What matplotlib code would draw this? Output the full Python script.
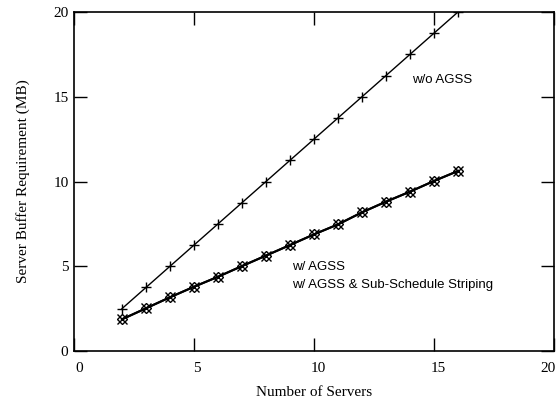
import matplotlib
matplotlib.use("Agg")
import matplotlib.pyplot as plt
import matplotlib.transforms as mtransforms

servers = [2, 3, 4, 5, 6, 7, 8, 9, 10, 11, 12, 13, 14, 15, 16]
wo_agss = [2.5, 3.75, 5.0, 6.25, 7.5, 8.75, 10.0, 11.25, 12.5, 13.75, 15.0, 16.25, 17.5, 18.75, 20.0]
w_agss = [1.87, 2.52, 3.17, 3.79, 4.38, 5.01, 5.63, 6.25, 6.88, 7.47, 8.18, 8.81, 9.4, 10.03, 10.62]
w_agss_sss = [1.87, 2.52, 3.17, 3.79, 4.38, 5.01, 5.63, 6.25, 6.88, 7.47, 8.18, 8.81, 9.4, 10.03, 10.62]
x_ticks = [0, 5, 10, 15, 20]
y_ticks = [0, 5, 10, 15, 20]

serif = ["Liberation Serif", "DejaVu Serif"]
sans = ["Liberation Sans", "DejaVu Sans"]

fig = plt.figure(figsize=(5.59, 4.07), dpi=100)
ax = fig.add_axes([0.1324, 0.1376, 0.991 - 0.1324, 0.9705 - 0.1376])

ax.plot(servers, wo_agss, color="black", lw=1.0, marker="+", ms=7.5, mew=1.0)
ax.plot(servers, w_agss, color="black", lw=1.5, marker="x", ms=7, mew=1.0)
ax.plot(servers, w_agss_sss, color="black", lw=1.5, marker="D", ms=5, mew=1.0,
        fillstyle="none")

ax.set_xlim(0, 20)
ax.set_ylim(0, 20)
ax.set_xticks(x_ticks)
ax.set_yticks(y_ticks)
ax.tick_params(direction="in", length=9.4, width=1.0, top=True, right=True,
               labelsize=11)
ax.tick_params(axis="x", pad=8)
ax.tick_params(axis="y", pad=4)
for lab in ax.get_xticklabels() + ax.get_yticklabels():
    lab.set_family(serif)
xlabs = ax.get_xticklabels()
shifts = [5, 3, 4, 4, -6]
for lab, dx in zip(xlabs, shifts):
    lab.set_transform(lab.get_transform() +
                      mtransforms.ScaledTranslation(dx / 100, 0, fig.dpi_scale_trans))
for s in ax.spines.values():
    s.set_linewidth(1.2)

ax.set_xlabel("Number of Servers", family=serif, fontsize=11, labelpad=8)
ax.set_ylabel("Server Buffer Requirement (MB)", family=serif, fontsize=11, labelpad=17)

ax.text(14.1, 16.0, "w/o AGSS", family=sans, fontsize=9.5, va="center", ha="left")
ax.text(9.08, 4.96, "w/ AGSS", family=sans, fontsize=9.5, va="center", ha="left")
ax.text(9.08, 3.9, "w/ AGSS & Sub-Schedule Striping", family=sans, fontsize=9.5,
        va="center", ha="left")

fig.savefig("out.png", dpi=100)
